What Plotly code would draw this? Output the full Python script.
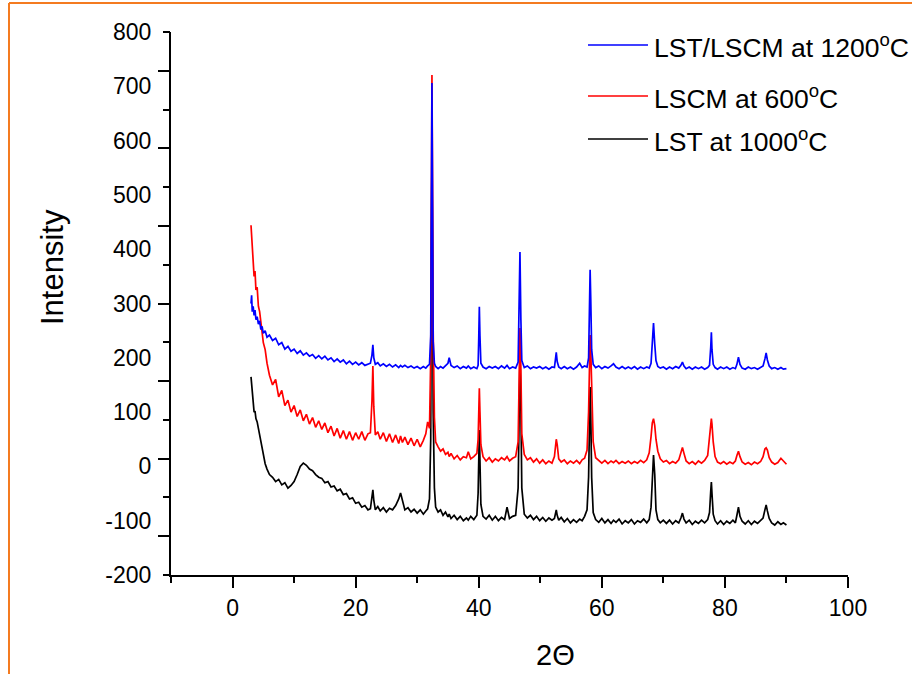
import plotly.graph_objects as go

# ---------------- data ----------------
two_theta = [
    3.0, 3.1, 3.2, 3.35, 3.5, 3.65, 3.8, 4.0, 4.2, 4.4, 4.6, 4.8, 5.0, 5.3, 5.6, 6.0,
    6.5, 7.0, 7.5, 8.0, 8.5, 9.0, 9.5, 10.0, 10.5, 11.0, 11.5, 12.0, 12.5, 13.0, 13.5, 14.0,
    14.5, 15.0, 15.5, 16.0, 16.5, 17.0, 17.5, 18.0, 18.5, 19.0, 19.5, 20.0, 20.5, 21.0, 21.5, 22.0,
    22.4, 22.65, 22.8, 22.95, 23.2, 23.6, 24.0, 24.5, 25.0, 25.5, 26.0, 26.5, 27.0, 27.3, 27.6, 28.0,
    28.5, 29.0, 29.5, 30.0, 30.5, 31.0, 31.4, 31.7, 32.0, 32.2, 32.3, 32.4, 32.5, 32.6, 32.8, 33.0,
    33.4, 33.8, 34.2, 34.6, 35.0, 35.2, 35.5, 36.0, 36.5, 37.0, 37.5, 38.0, 38.3, 38.7, 39.2, 39.7,
    39.9, 40.0, 40.1, 40.2, 40.35, 40.7, 41.2, 41.7, 42.2, 42.7, 43.2, 43.7, 44.2, 44.6, 45.0, 45.5,
    46.0, 46.4, 46.55, 46.7, 46.85, 47.0, 47.4, 47.9, 48.4, 48.9, 49.4, 49.9, 50.4, 50.9, 51.4, 51.9,
    52.3, 52.5, 52.6, 52.75, 53.0, 53.4, 53.9, 54.4, 54.9, 55.4, 55.9, 56.4, 56.8, 57.2, 57.6, 57.85,
    58.0, 58.1, 58.2, 58.35, 58.6, 59.0, 59.5, 60.0, 60.5, 61.0, 61.5, 61.9, 62.3, 62.8, 63.3, 63.8,
    64.3, 64.8, 65.3, 65.8, 66.3, 66.8, 67.3, 67.7, 68.0, 68.2, 68.4, 68.6, 68.8, 69.1, 69.5, 70.0,
    70.5, 71.0, 71.5, 72.0, 72.5, 72.85, 73.1, 73.35, 73.7, 74.2, 74.7, 75.2, 75.7, 76.2, 76.7, 77.2,
    77.5, 77.7, 77.8, 77.9, 78.1, 78.4, 78.8, 79.3, 79.8, 80.3, 80.8, 81.3, 81.7, 81.95, 82.2, 82.45,
    82.8, 83.3, 83.8, 84.3, 84.8, 85.3, 85.8, 86.2, 86.5, 86.7, 86.9, 87.2, 87.6, 88.1, 88.6, 89.1,
    89.5, 90.0,
]

lst_lscm_1200 = [
    300, 315, 285, 295, 278, 288, 270, 276, 262, 268, 252, 258, 245, 250, 238, 242,
    232, 236, 224, 228, 216, 221, 212, 216, 208, 213, 205, 209, 203, 206, 199, 204,
    198, 203, 196, 200, 193, 198, 192, 196, 189, 194, 188, 192, 187, 191, 186, 189,
    190, 205, 224, 200, 188, 191, 185, 189, 184, 188, 183, 187, 182, 186, 183, 186,
    182, 185, 181, 184, 180, 184, 181, 185, 188, 240, 520, 706, 480, 230, 190, 184,
    180, 184, 181, 185, 190, 200, 186, 182, 185, 180, 184, 181, 185, 180, 183, 180,
    186, 235, 294, 240, 190, 183, 180, 184, 181, 184, 180, 185, 181, 186, 180, 183,
    181, 192, 280, 395, 270, 195, 182, 185, 180, 183, 181, 184, 180, 183, 179, 183,
    182, 196, 210, 193, 183, 180, 184, 180, 183, 179, 183, 190, 182, 185, 183, 200,
    300, 362, 310, 215, 188, 182, 185, 180, 184, 181, 185, 189, 183, 180, 184, 180,
    183, 180, 184, 179, 183, 180, 183, 181, 190, 230, 264, 225, 195, 184, 181, 183,
    179, 183, 180, 184, 181, 186, 192, 185, 180, 183, 179, 183, 180, 183, 179, 182,
    186, 220, 247, 215, 188, 182, 179, 183, 180, 183, 179, 182, 180, 188, 201, 188,
    181, 179, 183, 180, 182, 179, 182, 185, 198, 209, 196, 185, 180, 182, 179, 182,
    179, 180,
]

lscm_600 = [
    444, 420, 395, 375, 350, 360, 325, 330, 295, 285, 262, 250, 228, 215, 190, 168,
    150, 160, 128, 140, 112, 122, 100, 112, 92, 104, 84, 96, 78, 90, 72, 84,
    68, 80, 62, 74, 56, 70, 52, 66, 50, 64, 48, 62, 50, 64, 48, 60,
    62, 120, 185, 110, 58, 64, 50, 62, 46, 60, 44, 58, 42, 56, 44, 54,
    40, 52, 38, 50, 36, 48, 60, 82, 70, 200, 560, 721, 520, 250, 90, 45,
    36, 28, 32, 22, 26, 18, 24, 14, 20, 12, 18, 16, 27, 14, 18, 24,
    50, 110, 144, 100, 40, 18, 10, 16, 8, 14, 10, 16, 12, 18, 10, 15,
    18, 45, 170, 255, 180, 60, 22, 12, 16, 8, 14, 6, 12, 5, 10, 6,
    18, 42, 50, 40, 14, 8, 12, 5, 10, 6, 11, 5, 12, 15, 30, 100,
    190, 242, 215, 130, 45, 16, 10, 6, 11, 5, 10, 7, 11, 5, 9, 6,
    10, 5, 9, 6, 11, 7, 12, 25, 55, 80, 88, 75, 50, 28, 14, 8,
    11, 5, 9, 6, 12, 25, 35, 24, 10, 5, 9, 4, 10, 6, 11, 20,
    50, 80, 88, 78, 45, 18, 8, 5, 9, 4, 8, 5, 10, 20, 28, 18,
    8, 4, 7, 3, 8, 5, 9, 18, 32, 34, 30, 16, 8, 4, 7, 15,
    10, 4,
]

lst_1000 = [
    165, 150, 128, 118, 100, 102, 88, 82, 70, 55, 40, 30, 20, 5, -5, -15,
    -20, -28, -24, -34, -30, -40, -35, -28, -15, 0, 6, 2, -5, -8, -15, -20,
    -22, -30, -28, -38, -36, -45, -42, -52, -50, -60, -58, -68, -66, -75, -72, -80,
    -78, -60, -43, -62, -80, -74, -82, -76, -84, -77, -80, -72, -60, -49, -65, -80,
    -76, -84, -79, -86, -80, -88, -82, -78, -60, 50, 400, 560, 380, 100, -40, -75,
    -84, -80, -90, -84, -93, -88, -96, -90, -98, -92, -100, -95, -99, -92, -98, -90,
    -50, 20, 67, 10, -70, -92, -97, -90, -99, -92, -100, -94, -98, -75, -96, -92,
    -90, -40, 120, 200, 110, -40, -88, -95, -90, -98, -92, -100, -94, -101, -95, -99,
    -96, -85, -80, -90, -99, -94, -102, -96, -104, -98, -103, -97, -100, -92, -80, -20,
    90, 146, 100, -20, -85, -98, -103, -96, -104, -98, -105, -99, -103, -97, -106, -100,
    -104, -98, -106, -100, -103, -97, -104, -98, -75, -10, 21, -15, -80, -98, -104, -99,
    -105, -99, -106, -100, -104, -95, -86, -97, -104, -99, -107, -101, -105, -99, -104, -98,
    -85, -45, -29, -50, -88, -100, -106, -100, -107, -101, -105, -99, -104, -90, -75, -92,
    -101, -106, -100, -107, -101, -105, -99, -95, -80, -71, -82, -96, -104, -108, -102, -107,
    -104, -108,
]

series_names = ["LST/LSCM at 1200<sup>o</sup>C", "LSCM at 600<sup>o</sup>C", "LST at 1000<sup>o</sup>C"]
series_colors = ["#0000FF", "#FF0000", "#000000"]
x_tick_values = [0, 20, 40, 60, 80, 100]
x_tick_labels = ["0", "20", "40", "60", "80", "100"]
y_tick_values = [-200, -100, 0, 100, 200, 300, 400, 500, 600, 700, 800]
y_tick_labels = ["-200", "-100", "0", "100", "200", "300", "400", "500", "600", "700", "800"]

for arr in (lst_lscm_1200, lscm_600, lst_1000):
    assert len(arr) == len(two_theta), (len(arr), len(two_theta))

# ---------------- figure ----------------
fig = go.Figure()
series_values = [lst_lscm_1200, lscm_600, lst_1000]
# draw black first, blue last (blue on top)
for i in [2, 1, 0]:
    fig.add_trace(go.Scatter(
        x=two_theta, y=series_values[i], mode="lines",
        line=dict(color=series_colors[i], width=1.7),
        name=series_names[i].replace("<sup>o</sup>", "°"), showlegend=False,
    ))
# helper trace for the tick-mark axis
fig.add_trace(go.Scatter(x=[None], y=[None], yaxis="y2", showlegend=False, hoverinfo="skip"))

FONT = "Arial, 'Liberation Sans', sans-serif"

# plot area in pixels: x 171..848, y 32..575
L, R, T, B = 171, 848, 32, 575
W, H = R - L, B - T
def px(xp):
    return (xp - L) / W
def py(yp):
    return (B - yp) / H

fig.update_layout(
    width=912, height=674,
    margin=dict(l=L, r=912 - R, t=T, b=674 - B),
    plot_bgcolor="white", paper_bgcolor="white",
    font=dict(family=FONT, color="black"),
    showlegend=False,
    xaxis=dict(
        range=[-10, 100], tickmode="array", tickvals=x_tick_values, ticktext=x_tick_labels,
        ticks="outside", ticklen=11, tickwidth=2, tickcolor="black",
        showline=True, linewidth=2, linecolor="black",
        showgrid=False, zeroline=False, tickfont=dict(size=23),
        minor=dict(ticks="outside", tickmode="linear", tick0=0, dtick=10,
                   ticklen=6, tickwidth=2, tickcolor="black", showgrid=False),
    ),
    yaxis=dict(
        range=[-200, 800], tickmode="array", tickvals=y_tick_values, ticktext=y_tick_labels,
        ticks="outside", ticklen=13, tickcolor="rgba(0,0,0,0)",
        showline=True, linewidth=2, linecolor="black",
        showgrid=False, zeroline=False, tickfont=dict(size=23),
    ),
    yaxis2=dict(
        overlaying="y", side="left", anchor="x",
        range=[-200, 800], tickmode="linear",
        tick0=-200 + 1000 / 14, dtick=2000 / 14,
        ticks="outside", ticklen=12, tickwidth=2, tickcolor="black",
        showticklabels=False, showline=False, showgrid=False, zeroline=False,
        minor=dict(ticks="outside", tickmode="linear", tick0=-200, dtick=1000 / 14,
                   ticklen=7, tickwidth=2, tickcolor="black", showgrid=False),
    ),
)

annotations = [
    dict(text="Intensity", x=px(52), y=py(267), xref="paper", yref="paper",
         textangle=-90, showarrow=False, font=dict(size=31, family=FONT),
         xanchor="center", yanchor="middle"),
    dict(text="2Θ", x=px(555), y=py(655), xref="paper", yref="paper",
         showarrow=False, font=dict(size=29, family=FONT),
         xanchor="center", yanchor="middle"),
]
shapes = []
legend_y = [45, 96, 139]
for name, color, ly in zip(series_names, series_colors, legend_y):
    shapes.append(dict(type="line", xref="paper", yref="paper",
                       x0=px(588), x1=px(648), y0=py(ly), y1=py(ly),
                       line=dict(color=color, width=1.5)))
    annotations.append(dict(text=name, x=px(652), y=py(ly + 1), xref="paper", yref="paper",
                            showarrow=False, xanchor="left", yanchor="middle",
                            font=dict(size=26.5, family=FONT, color="black")))

# orange frame (top and left edges)
ORANGE = "#F47B20"
shapes.append(dict(type="line", xref="paper", yref="paper",
                   x0=px(9), x1=px(930), y0=py(3), y1=py(3),
                   line=dict(color=ORANGE, width=2)))
shapes.append(dict(type="line", xref="paper", yref="paper",
                   x0=px(9), x1=px(9), y0=py(3), y1=py(700),
                   line=dict(color=ORANGE, width=2)))

fig.update_layout(annotations=annotations, shapes=shapes)

fig.write_html("out.html", config={"displayModeBar": False},
               post_script="document.body.style.margin='0px';")
